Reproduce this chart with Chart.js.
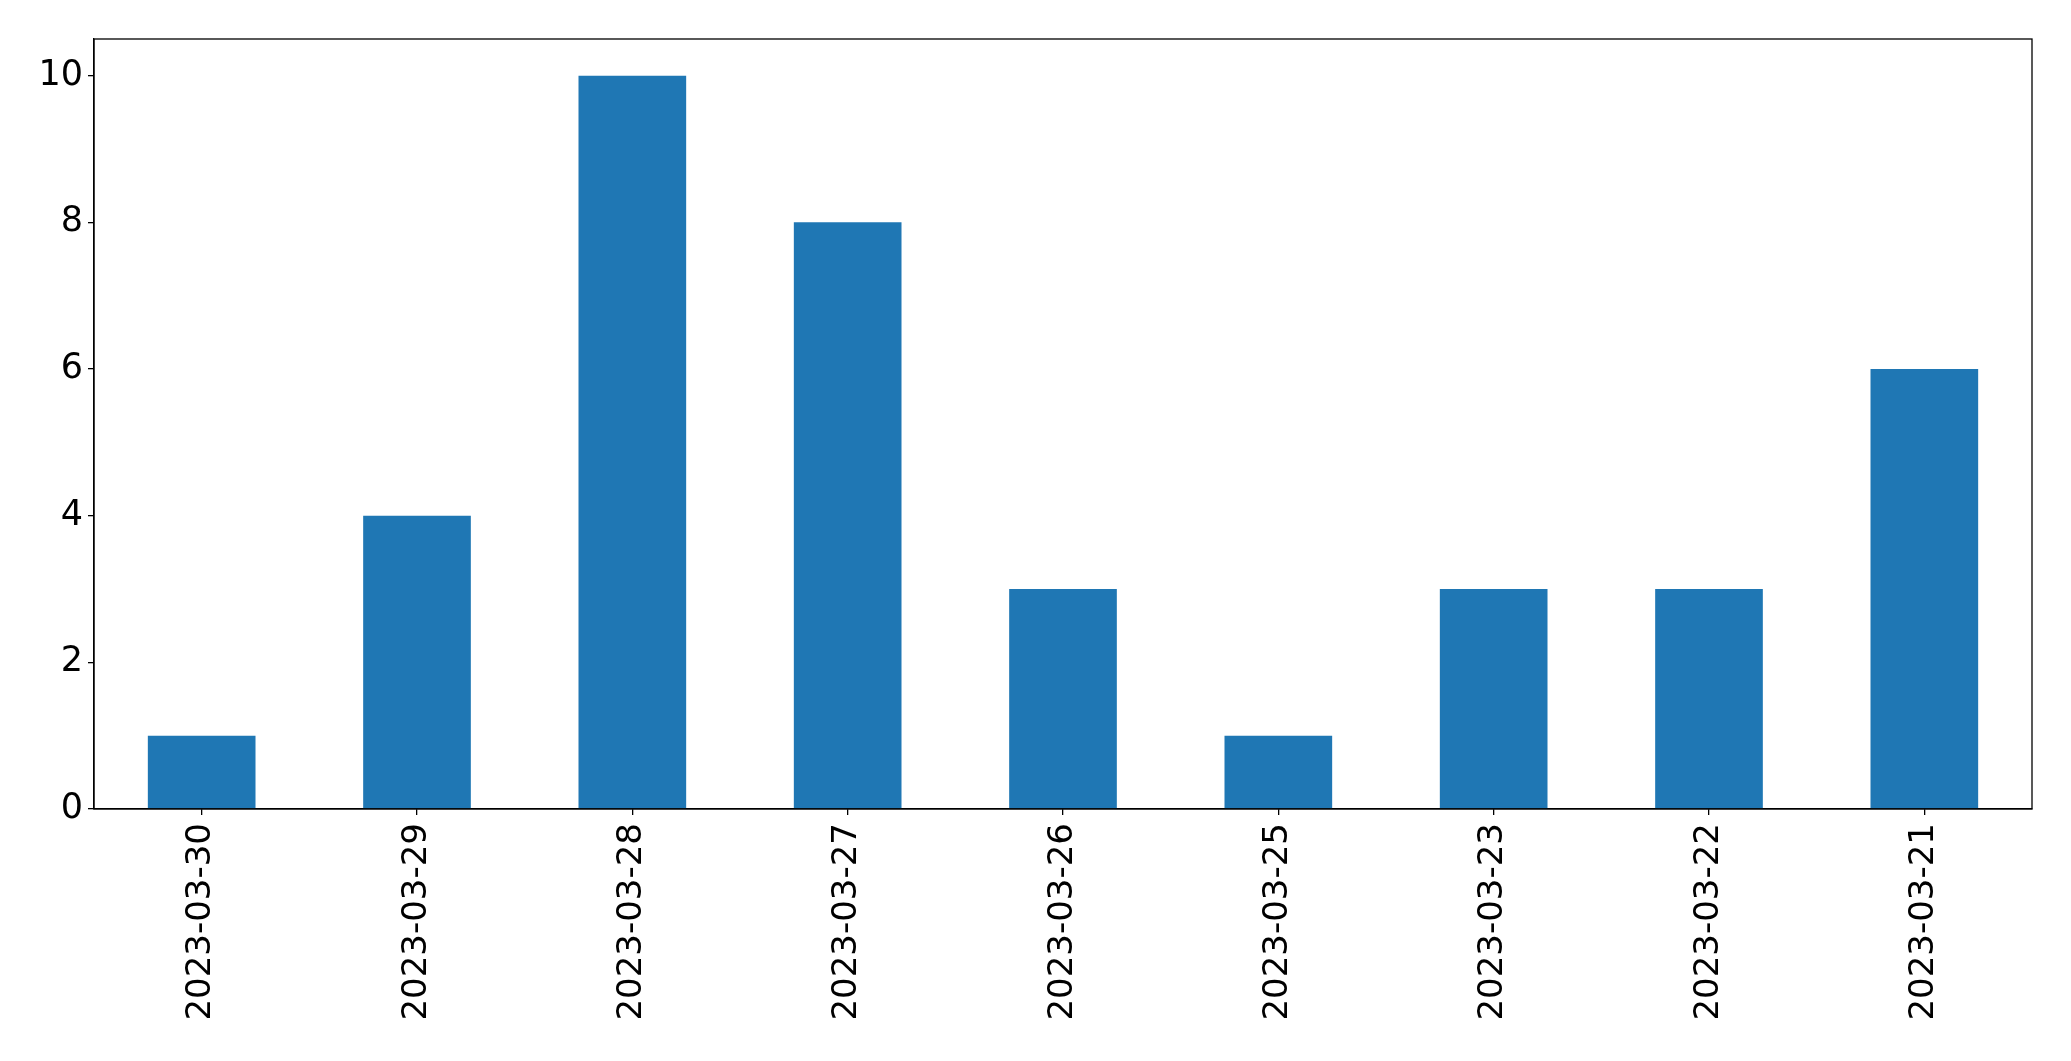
<!DOCTYPE html>
<html lang="en">
<head>
  <meta charset="UTF-8" />
  <title>Counts by date</title>
  <script src="https://cdn.jsdelivr.net/npm/chart.js"></script>
  <style>
    html, body { margin: 0; padding: 0; background: #fff; }
    #wrap { width: 2071px; height: 1061px; }
  </style>
</head>
<body>
  <div id="wrap"><canvas id="barChart" width="2071" height="1061"></canvas></div>
  <script>
    // data
    const dates = ['2023-03-30', '2023-03-29', '2023-03-28', '2023-03-27', '2023-03-26',
                   '2023-03-25', '2023-03-23', '2023-03-22', '2023-03-21'];
    const counts = [1, 4, 10, 8, 3, 1, 3, 3, 6];
    const yTicks = [0, 2, 4, 6, 8, 10];

    // frame on all four sides, like matplotlib spines
    const framePlugin = {
      id: 'frame',
      afterDraw(chart) {
        const { ctx, chartArea: a } = chart;
        ctx.save();
        ctx.strokeStyle = '#000';
        ctx.lineWidth = 1.3;
        ctx.strokeRect(a.left, a.top, a.right - a.left, a.bottom - a.top);
        ctx.restore();
      }
    };

    const ctx = document.getElementById('barChart').getContext('2d');
    new Chart(ctx, {
      type: 'bar',
      data: {
        labels: dates,
        datasets: [{
          data: counts,
          backgroundColor: '#1f77b4',
          borderWidth: 0,
          categoryPercentage: 0.5,
          barPercentage: 1.0
        }]
      },
      options: {
        responsive: false,
        animation: false,
        layout: { padding: { top: 39, right: 39, left: 0, bottom: 0 } },
        plugins: { legend: { display: false }, tooltip: { enabled: false } },
        scales: {
          x: {
            offset: true,
            grid: { offset: false, drawOnChartArea: false, drawTicks: true, tickLength: 6, color: '#000', lineWidth: 1.3 },
            border: { display: true, color: '#000', width: 1.3 },
            ticks: {
              color: '#000',
              font: { family: 'DejaVu Sans', size: 34 },
              minRotation: 90,
              maxRotation: 90,
              padding: 8
            },
            afterFit(scale) { scale.height = 252; }
          },
          y: {
            min: 0,
            max: 10.5,
            afterBuildTicks(scale) { scale.ticks = yTicks.map(v => ({ value: v })); },
            grid: { drawOnChartArea: false, drawTicks: true, tickLength: 6, color: '#000', lineWidth: 1.3 },
            border: { display: true, color: '#000', width: 1.3 },
            ticks: {
              color: '#000',
              font: { family: 'DejaVu Sans', size: 35 },
              padding: 5
            },
            afterFit(scale) { scale.width = 94; }
          }
        }
      },
      plugins: [framePlugin]
    });
  </script>
</body>
</html>
